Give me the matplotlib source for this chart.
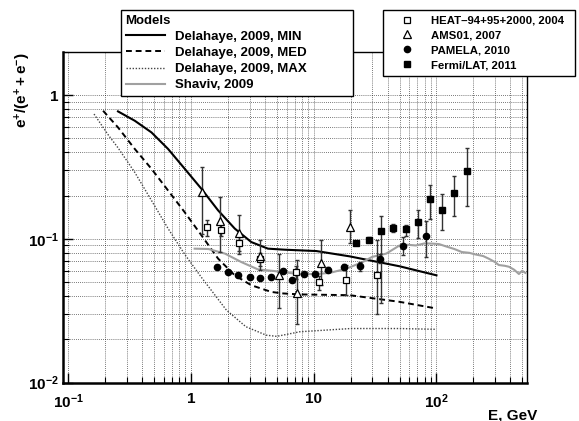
import numpy as np
import matplotlib
matplotlib.use("Agg")
from matplotlib import pyplot as plt
from matplotlib.ticker import FixedLocator, FuncFormatter, NullFormatter

plt.rcParams['font.family'] = ['Liberation Sans', 'DejaVu Sans']
plt.rcParams['font.weight'] = 'bold'
plt.rcParams['mathtext.fontset'] = 'custom'
plt.rcParams['mathtext.rm'] = 'Liberation Sans:bold'
plt.rcParams['mathtext.bf'] = 'Liberation Sans:bold'
plt.rcParams['mathtext.it'] = 'Liberation Sans:bold'

# models (Delahaye 2009 MIN / MED / MAX, Shaviv 2009)
min_E = [0.254, 0.348, 0.476, 0.65, 0.889, 1.215, 1.66, 2.27, 3.1, 4.24, 5.8, 10.5, 19.6, 50, 100]
min_v = [0.77, 0.663, 0.55, 0.422, 0.307, 0.223, 0.158, 0.118, 0.095, 0.0855, 0.0841, 0.0823, 0.0756, 0.0645, 0.0558]

med_E = [0.192, 0.254, 0.348, 0.476, 0.65, 0.889, 1.215, 1.66, 2.27, 3.1, 4.5, 5.5, 7.7, 19.6, 50, 100]
med_v = [0.778, 0.596, 0.422, 0.307, 0.217, 0.153, 0.106, 0.073, 0.0558, 0.0476, 0.0428, 0.0418, 0.0411, 0.0406, 0.0365, 0.0328]

max_E = [0.162, 0.211, 0.254, 0.348, 0.476, 0.65, 0.889, 1.215, 1.46, 1.94, 2.8, 4.1, 5.0, 7.7, 13.5, 20, 50, 100]
max_v = [0.738, 0.53, 0.43, 0.29, 0.185, 0.118, 0.078, 0.054, 0.044, 0.032, 0.0245, 0.0214, 0.021, 0.0226, 0.0233, 0.0238, 0.0238, 0.0235]

shav_E = [1.07, 1.39, 1.89, 2.57, 3.5, 4.8, 7.7, 10.5, 13.5, 18.4, 25, 30, 39, 50, 58, 68, 80, 93,
          105, 118, 140, 161, 185, 207, 240, 267, 300, 322, 360, 390, 430, 470, 500, 530]
shav_v = [0.0855, 0.085, 0.079, 0.069, 0.0614, 0.0597, 0.0568, 0.057, 0.058, 0.062, 0.069, 0.075, 0.079, 0.090, 0.091, 0.090, 0.093, 0.0927,
          0.092, 0.089, 0.085, 0.081, 0.080, 0.078, 0.076, 0.0728, 0.069, 0.0658, 0.065, 0.064, 0.061, 0.057, 0.060, 0.058]

# data
heat_E = [1.36, 1.77, 2.44, 3.63, 7.2, 11.0, 18.4, 33.0]
heat_v = [0.121, 0.116, 0.094, 0.072, 0.059, 0.050, 0.052, 0.056]
heat_lo = [0.104, 0.104, 0.083, 0.065, 0.053, 0.044, 0.041, 0.030]
heat_hi = [0.136, 0.128, 0.105, 0.080, 0.065, 0.055, 0.066, 0.098]

ams_E = [1.23, 1.71, 2.44, 3.63, 5.18, 7.35, 11.4, 19.9]
ams_v = [0.211, 0.133, 0.110, 0.076, 0.0558, 0.042, 0.068, 0.121]
ams_lo = [0.108, 0.081, 0.079, 0.061, 0.033, 0.0256, 0.0476, 0.094]
ams_hi = [0.318, 0.195, 0.146, 0.099, 0.079, 0.0708, 0.099, 0.16]

pam_E = [1.64, 2.0, 2.42, 3.0, 3.67, 4.45, 5.6, 6.7, 8.3, 10.2, 13.1, 17.6, 23.9, 34.8, 53.2, 81.5]
pam_v = [0.0637, 0.0589, 0.0558, 0.0543, 0.0537, 0.0543, 0.0598, 0.0516, 0.0568, 0.0568, 0.0611, 0.0637, 0.0644, 0.0728, 0.089, 0.105]
pam_lo = [0.062, 0.0575, 0.0545, 0.053, 0.0524, 0.053, 0.058, 0.050, 0.055, 0.055, 0.059, 0.061, 0.060, 0.068, 0.077, 0.075]
pam_hi = [0.0655, 0.0605, 0.0572, 0.0557, 0.0551, 0.0557, 0.0617, 0.0533, 0.0587, 0.059, 0.0635, 0.0665, 0.069, 0.078, 0.103, 0.134]

fermi_E = [22.2, 28, 35.5, 44.5, 56, 70.6, 87.9, 111.4, 140, 177]
fermi_v = [0.0935, 0.0987, 0.113, 0.119, 0.118, 0.13, 0.188, 0.159, 0.208, 0.297]
fermi_lo = [0.090, 0.095, 0.036, 0.112, 0.105, 0.101, 0.138, 0.115, 0.144, 0.168]
fermi_hi = [0.097, 0.103, 0.145, 0.126, 0.125, 0.159, 0.238, 0.204, 0.272, 0.429]

fig = plt.figure(figsize=(5.79, 4.21), dpi=100)
ax = fig.add_axes([0.1083, 0.091, 0.8024, 0.786])
ax.set_xscale('log')
ax.set_yscale('log')
ax.set_xlim(0.09, 550)
ax.set_ylim(0.01, 2.0)

# grid at every tick, ROOT style
xgrid = [m * 10.0 ** k for k in range(-1, 3) for m in range(1, 10)]
ygrid = [m * 10.0 ** k for k in range(-2, 1) for m in range(1, 10)] + [1.0]
ax.xaxis.set_major_locator(FixedLocator([0.1, 1, 10, 100]))
ax.xaxis.set_minor_locator(FixedLocator([v for v in xgrid if v not in (0.1, 1, 10, 100)]))
ax.yaxis.set_major_locator(FixedLocator([0.01, 0.1, 1]))
ax.yaxis.set_minor_locator(FixedLocator([v for v in ygrid if v not in (0.01, 0.1, 1)]))
ax.grid(True, which='both', color='black', linestyle=(0, (1, 1.5)), linewidth=0.6, alpha=0.7)
ax.set_axisbelow(True)


def fmt(v, pos):
    if abs(v - 1) < 1e-9:
        return '1'
    if abs(v - 10) < 1e-9:
        return '10'
    k = int(round(np.log10(v)))
    return r'$\mathbf{10^{%d}}$' % k


ax.xaxis.set_major_formatter(FuncFormatter(fmt))
ax.yaxis.set_major_formatter(FuncFormatter(fmt))
ax.xaxis.set_minor_formatter(NullFormatter())
ax.yaxis.set_minor_formatter(NullFormatter())
ax.tick_params(which='both', direction='in', top=False, right=False, labelsize=11)
ax.tick_params(which='major', length=7, width=1)
ax.tick_params(which='minor', length=4, width=0.8)
ax.tick_params(axis='x', which='major', pad=7)
ax.tick_params(axis='y', which='major', pad=3)
for s in ['left', 'bottom']:
    ax.spines[s].set_linewidth(1.8)
for s in ['top', 'right']:
    ax.spines[s].set_linewidth(1.0)

# model curves
l_min, = ax.plot(min_E, min_v, color='black', lw=1.5, label='Delahaye, 2009, MIN')
l_med, = ax.plot(med_E, med_v, color='black', lw=1.4, linestyle=(0, (3, 2)), label='Delahaye, 2009, MED')
l_max, = ax.plot(max_E, max_v, color='#444444', lw=1.0, linestyle=(0, (1, 1.2)), label='Delahaye, 2009, MAX')
l_sh, = ax.plot(shav_E, shav_v, color='#a0a0a0', lw=1.5, label='Shaviv, 2009')

# error bars
ebkw = dict(fmt='none', ecolor='#333333', elinewidth=1.0, capsize=1.5, capthick=1.0)
for E, v, lo, hi in [(heat_E, heat_v, heat_lo, heat_hi), (ams_E, ams_v, ams_lo, ams_hi),
                     (pam_E, pam_v, pam_lo, pam_hi), (fermi_E, fermi_v, fermi_lo, fermi_hi)]:
    v = np.array(v)
    ax.errorbar(E, v, yerr=[v - np.array(lo), np.array(hi) - v], **ebkw)

m_pam, = ax.plot(pam_E, pam_v, 'o', color='black', ms=4.5, ls='none', label='PAMELA, 2010')
m_fermi, = ax.plot(fermi_E, fermi_v, 's', color='black', ms=4.6, ls='none', label='Fermi/LAT, 2011')
m_heat, = ax.plot(heat_E, heat_v, 's', mfc='white', mec='black', mew=0.9, ms=4.8, ls='none',
                  label='HEAT\u201394+95+2000, 2004')
m_ams, = ax.plot(ams_E, ams_v, '^', mfc='white', mec='black', mew=0.9, ms=5.2, ls='none', label='AMS01, 2007')

# legends
W, H = 579.0, 421.0
leg1 = fig.legend(handles=[l_min, l_med, l_max, l_sh], loc='upper left',
                  bbox_to_anchor=(121 / W, 1 - 10 / H, 232 / W, 0), mode='expand',
                  title='Models', alignment='left', title_fontproperties={'weight': 'bold', 'size': 9.5},
                  prop={'weight': 'bold', 'size': 9.5}, frameon=True, fancybox=False,
                  edgecolor='black', framealpha=1, borderaxespad=0, borderpad=0.35,
                  handlelength=3.0, handletextpad=0.75, labelspacing=0.3)
leg1.get_frame().set_linewidth(1.0)

leg2 = fig.legend(handles=[m_heat, m_ams, m_pam, m_fermi], loc='upper left',
                  bbox_to_anchor=(383 / W, 1 - 10 / H, 192 / W, 0), mode='expand',
                  prop={'weight': 'bold', 'size': 8.2}, frameon=True, fancybox=False,
                  edgecolor='black', framealpha=1, borderaxespad=0, borderpad=0.5,
                  handlelength=3.2, handletextpad=0.5, labelspacing=0.42)
leg2.get_frame().set_linewidth(1.0)

fig.text(23 / W, 1 - 52 / H, r'$\mathbf{e^{+}/(e^{+} + e^{-})}$', rotation=90, ha='center', va='top', fontsize=11)
fig.text(537 / W, 1 - 415 / H, 'E, GeV', ha='right', va='center', fontsize=11, fontweight='bold')

fig.savefig('out.png', dpi=100)
